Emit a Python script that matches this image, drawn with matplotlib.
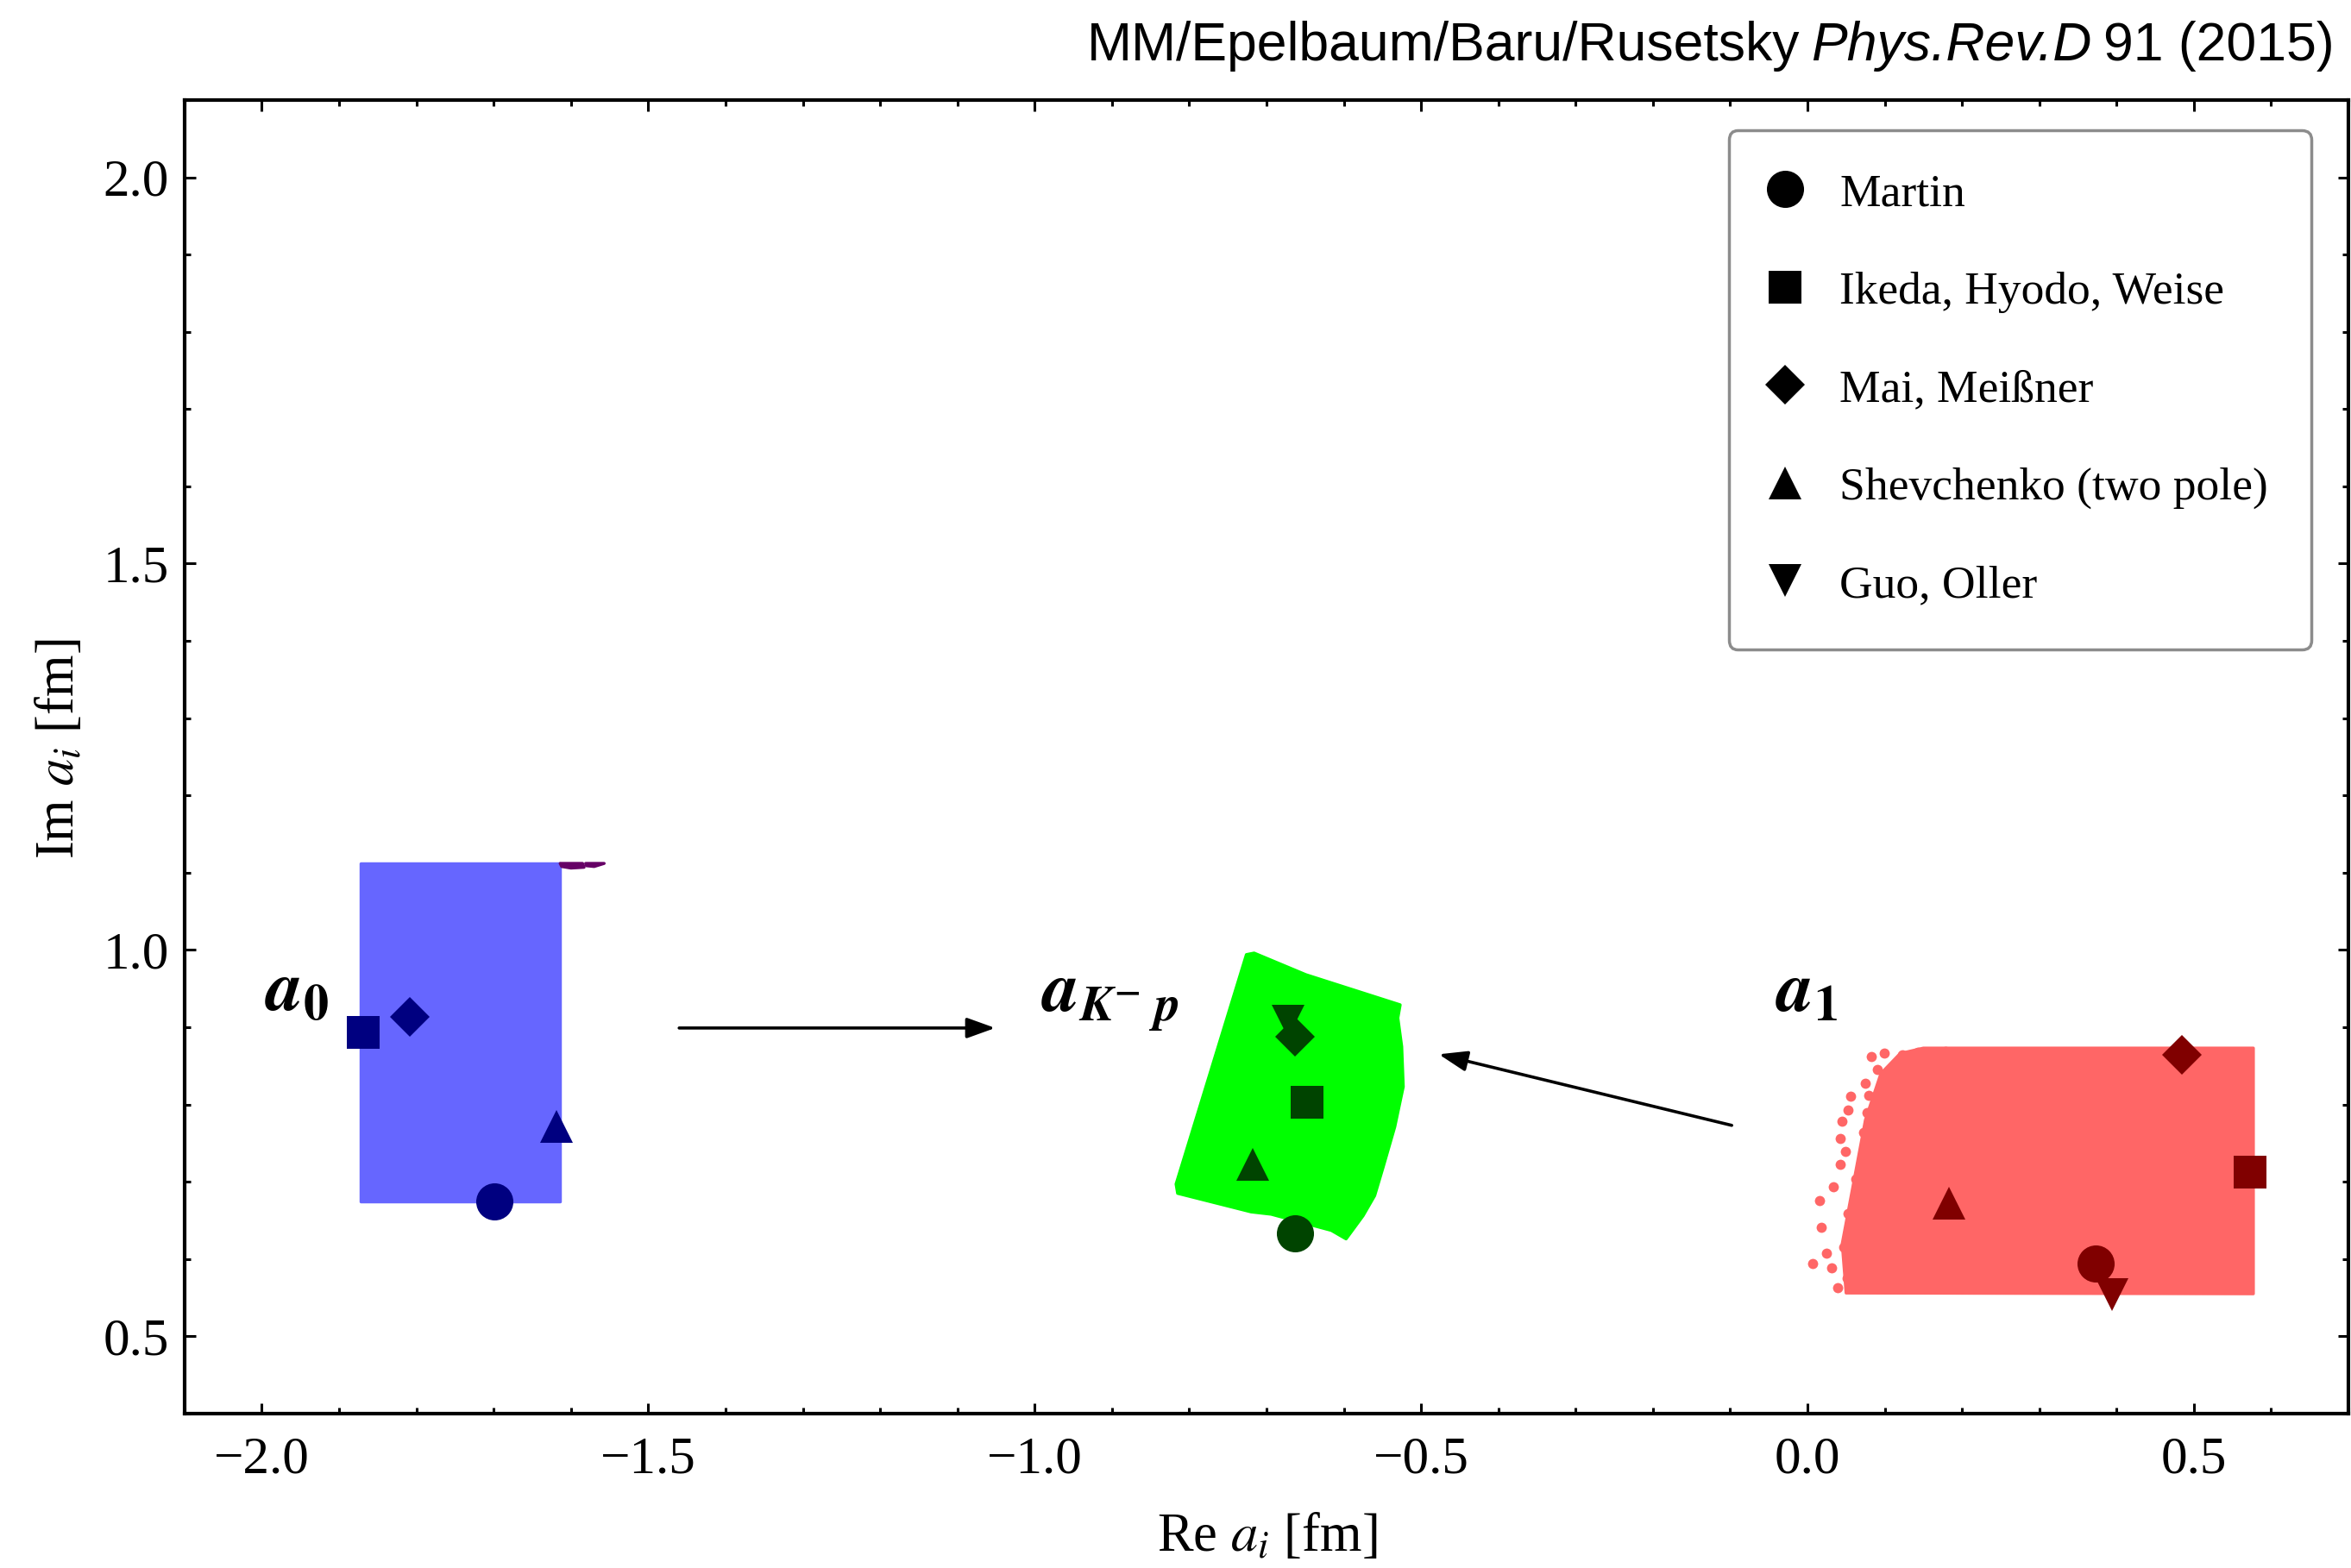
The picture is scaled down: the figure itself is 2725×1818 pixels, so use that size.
import matplotlib
matplotlib.use('Agg')
import matplotlib.pyplot as plt
from matplotlib.lines import Line2D
from matplotlib.patches import Polygon
from matplotlib.ticker import MultipleLocator
from matplotlib import font_manager

nan = float('nan')

# reference results (same order as the legend)
authors = ['Martin', 'Ikeda, Hyodo, Weise', 'Mai, Meißner', 'Shevchenko (two pole)', 'Guo, Oller']
symbols = ['o', 's', 'D', '^', 'v']
symbol_sizes = [31, 27, 23, 27, 27]

# a0 (isospin 0) values
a0_re = [-1.699, -1.869, -1.809, -1.619, nan]
a0_im = [0.674, 0.893, 0.913, 0.772, nan]
# a_{K^- p} values
akp_re = [-0.663, -0.648, -0.663, -0.718, -0.672]
akp_im = [0.633, 0.803, 0.888, 0.722, 0.908]
# a1 (isospin 1) values
a1_re = [0.373, 0.573, 0.484, 0.183, 0.394]
a1_im = [0.594, 0.713, 0.864, 0.672, 0.554]

# allowed regions (outlines)
a0_cloud_re = [-1.872, -1.614, -1.614, -1.872]
a0_cloud_im = [0.675, 0.675, 1.112, 1.112]
a0_tail_re = [-1.614, -1.585, -1.583, -1.600, -1.612]
a0_tail_im = [1.112, 1.112, 1.107, 1.106, 1.108]
a0_tail2_re = [-1.581, -1.557, -1.570, -1.580]
a0_tail2_im = [1.112, 1.112, 1.108, 1.109]

akp_cloud_re = [-0.726, -0.716, -0.649, -0.527, -0.530, -0.525, -0.523, -0.534, -0.549,
                -0.560, -0.575, -0.597, -0.616, -0.694, -0.720, -0.815, -0.817]
akp_cloud_im = [0.994, 0.996, 0.968, 0.929, 0.912, 0.875, 0.823, 0.771, 0.719,
                0.682, 0.656, 0.626, 0.637, 0.658, 0.661, 0.685, 0.697]

a1_cloud_re = [0.150, 0.577, 0.577, 0.050, 0.045, 0.060, 0.075, 0.095, 0.120]
a1_cloud_im = [0.873, 0.873, 0.555, 0.556, 0.620, 0.700, 0.780, 0.840, 0.866]

# loose samples on the left side of the a1 region
fringe_re = [0.007, 0.018, 0.025, 0.016, 0.039, 0.051, 0.034, 0.056, 0.052, 0.045,
             0.043, 0.049, 0.043, 0.083, 0.099, 0.075, 0.079, 0.073, 0.077, 0.063,
             0.065, 0.057, 0.053, 0.047, 0.031, 0.067, 0.079, 0.091, 0.103, 0.123,
             0.143, 0.179, 0.087, 0.091, 0.083, 0.087, 0.075, 0.115, 0.155]
fringe_im = [0.594, 0.641, 0.607, 0.676, 0.563, 0.575, 0.693, 0.811, 0.793, 0.778,
             0.756, 0.739, 0.722, 0.862, 0.866, 0.827, 0.812, 0.764, 0.790, 0.704,
             0.645, 0.626, 0.659, 0.615, 0.589, 0.592, 0.578, 0.845, 0.827, 0.864,
             0.868, 0.869, 0.790, 0.745, 0.682, 0.622, 0.563, 0.853, 0.857]

x_limits = [-2.1, 0.7]
y_limits = [0.4, 2.1]

plt.rcParams['font.family'] = ['Liberation Serif', 'DejaVu Serif']
plt.rcParams['mathtext.fontset'] = 'stix'

fig = plt.figure(figsize=(27.25, 18.18), dpi=100)
ax = fig.add_axes([0.0785, 0.0985, 0.9204, 0.8377])

blue, green, red = '#6666ff', '#00ff00', '#ff6666'
dark_blue, dark_green, dark_red = '#000080', '#004400', '#800000'

for xs, ys, col in [(a0_cloud_re, a0_cloud_im, blue),
                    (akp_cloud_re, akp_cloud_im, green),
                    (a1_cloud_re, a1_cloud_im, red),
                    (a0_tail_re, a0_tail_im, '#660066'),
                    (a0_tail2_re, a0_tail2_im, '#660066')]:
    ax.add_patch(Polygon(list(zip(xs, ys)), closed=True, facecolor=col, edgecolor=col,
                         linewidth=2.5, joinstyle='round', zorder=1))

ax.plot(fringe_re, fringe_im, 'o', color=red, ms=8.5, mew=0, zorder=1)

for xs, ys, col in [(a0_re, a0_im, dark_blue), (akp_re, akp_im, dark_green), (a1_re, a1_im, dark_red)]:
    for i in range(len(authors)):
        ax.plot(xs[i], ys[i], symbols[i], color=col, ms=symbol_sizes[i], mew=0, zorder=3)

# labels of the three regions
ax.text(-1.954, 0.921, r'$\mathbfit{a}_\mathbf{0}$', fontsize=60, ha='center', va='baseline')
ax.text(-0.902, 0.920, r'$\mathbfit{a}_{\mathbfit{K}^\mathbf{-}\ \mathbfit{p}}$', fontsize=60,
        ha='center', va='baseline')
ax.text(-0.001, 0.920, r'$\mathbfit{a}_\mathbf{1}$', fontsize=60, ha='center', va='baseline')

arrow_style = dict(arrowstyle='-|>,head_length=0.5,head_width=0.18', lw=2.6, color='black',
                   mutation_scale=40, shrinkA=0, shrinkB=0)
ax.annotate('', xy=(-1.051, 0.899), xytext=(-1.460, 0.899), arrowprops=arrow_style)
ax.annotate('', xy=(-0.477, 0.865), xytext=(-0.098, 0.773), arrowprops=arrow_style)

ax.set_xlim(x_limits)
ax.set_ylim(y_limits)
ax.xaxis.set_major_locator(MultipleLocator(0.5))
ax.xaxis.set_minor_locator(MultipleLocator(0.1))
ax.yaxis.set_major_locator(MultipleLocator(0.5))
ax.yaxis.set_minor_locator(MultipleLocator(0.1))
ax.tick_params(which='both', direction='in', top=True, right=True, width=2.2, labelsize=44)
ax.tick_params(which='major', length=9)
ax.tick_params(which='minor', length=5)
ax.tick_params(axis='x', pad=19)
ax.tick_params(axis='y', pad=13)
for spine in ax.spines.values():
    spine.set_linewidth(3.0)

ax.set_xlabel(r'Re $a_i$ [fm]', fontsize=45)
ax.set_ylabel(r'Im $a_i$ [fm]', fontsize=45)
ax.xaxis.set_label_coords(0.5004, -0.0945)
ax.xaxis.label.set_va('center')
ax.yaxis.set_label_coords(-0.0575, 0.506)
ax.yaxis.label.set_va('center')

handles = [Line2D([], [], ls='none', marker=symbols[i], color='black', ms=symbol_sizes[i], mew=0)
           for i in range(len(authors))]
leg = ax.legend(handles, authors, loc='upper right', bbox_to_anchor=(0.9828, 0.977),
                prop={'family': 'Liberation Serif', 'size': 38.5}, frameon=True, fancybox=True,
                framealpha=1, edgecolor='#8c8c8c', borderpad=0.93, labelspacing=1.215,
                handlelength=0.6, handletextpad=0.88, borderaxespad=0)
leg.get_frame().set_linewidth(2.5)

# citation line at the top right
names = {f.name for f in font_manager.fontManager.ttflist}
if 'Liberation Sans Narrow' in names:
    cite_family, cite_size = 'Liberation Sans Narrow', 53
else:
    cite_family, cite_size = 'Liberation Sans', 45
pieces = [('MM/Epelbaum/Baru/Rusetsky', 'normal'), ('Phys.Rev.D', 'italic'), ('91 (2015)', 'normal')]
renderer = fig.canvas.get_renderer()
W = fig.get_figwidth() * fig.dpi
x_right = 2706
for text, style in reversed(pieces):
    t = fig.text(x_right / W, 1 - 70 / 1818, text, ha='right', va='baseline',
                 family=cite_family, style=style, fontsize=cite_size)
    bb = t.get_window_extent(renderer)
    x_right = bb.x0 - cite_size * 0.3

fig.savefig('out.png', dpi=100)
